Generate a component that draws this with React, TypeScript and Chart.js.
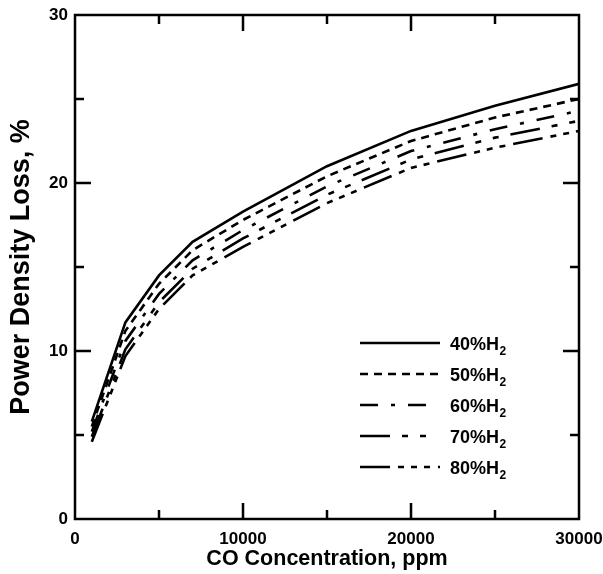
import React, { useEffect, useRef } from 'react';
import { Chart, registerables } from 'chart.js';

Chart.register(...registerables);

// ---- data ----
const coPpm = [1000, 3000, 5000, 7000, 10000, 15000, 20000, 25000, 30000];
const loss40 = [5.8, 11.7, 14.5, 16.5, 18.3, 21.0, 23.1, 24.6, 25.9];
const loss50 = [5.5, 11.2, 14.0, 16.0, 17.8, 20.4, 22.5, 23.9, 25.0];
const loss60 = [5.2, 10.6, 13.4, 15.4, 17.2, 19.8, 21.9, 23.2, 24.3];
const loss70 = [4.9, 10.1, 12.9, 14.9, 16.7, 19.3, 21.4, 22.7, 23.7];
const loss80 = [4.6, 9.7, 12.5, 14.5, 16.2, 18.8, 20.9, 22.1, 23.1];
const h2Percents = ['40%', '50%', '60%', '70%', '80%'];
const xTickValues = [0, 10000, 20000, 30000];
const yTickValues = [0, 10, 20, 30];

const seriesValues = [loss40, loss50, loss60, loss70, loss80];

// ---- styles ----
const FONT = '"Liberation Sans", Arial, Helvetica, sans-serif';
const dashes: number[][] = [
  [],
  [8, 6],
  [18, 13, 4, 13],
  [30, 12, 6, 12, 6, 12],
  [30, 8, 6, 7, 6, 7, 6, 8],
];
const legendLineLengths = [80, 78, 72, 73, 80];

const framePlugin = {
  id: 'frameTicks',
  afterDraw(chart: any) {
    const { ctx, chartArea } = chart;
    const { left, right, top, bottom } = chartArea;
    const xs = chart.scales.x;
    const ys = chart.scales.y;
    ctx.save();
    ctx.strokeStyle = '#000';
    ctx.lineWidth = 2.5;
    ctx.setLineDash([]);
    ctx.lineCap = 'butt';
    ctx.strokeRect(left, top, right - left, bottom - top);
    ctx.beginPath();
    for (let v = 5000; v < 30000; v += 5000) {
      const px = xs.getPixelForValue(v);
      const len = v % 10000 === 0 ? 16 : 9;
      ctx.moveTo(px, bottom);
      ctx.lineTo(px, bottom - len);
      ctx.moveTo(px, top);
      ctx.lineTo(px, top + len);
    }
    for (let v = 5; v < 30; v += 5) {
      const py = ys.getPixelForValue(v);
      const len = v % 10 === 0 ? 16 : 9;
      ctx.moveTo(left, py);
      ctx.lineTo(left + len, py);
      ctx.moveTo(right, py);
      ctx.lineTo(right - len, py);
    }
    ctx.stroke();

    // legend
    const x0 = 360;
    const textX = 450;
    chart.data.datasets.forEach((ds: any, i: number) => {
      const y = 343 + i * 31;
      ctx.save();
      ctx.strokeStyle = '#000';
      ctx.lineWidth = 2.6;
      ctx.setLineDash(ds.borderDash || []);
      ctx.beginPath();
      ctx.moveTo(x0, y);
      ctx.lineTo(x0 + legendLineLengths[i], y);
      ctx.stroke();
      ctx.restore();
      ctx.fillStyle = '#000';
      ctx.textAlign = 'left';
      ctx.textBaseline = 'alphabetic';
      ctx.font = `bold 18px ${FONT}`;
      const main = h2Percents[i] + 'H';
      ctx.fillText(main, textX, y + 6.5);
      const w = ctx.measureText(main).width;
      ctx.font = `bold 12px ${FONT}`;
      ctx.fillText('2', textX + w + 0.5, y + 12);
    });
    ctx.restore();
  },
};

export default function App() {
  const canvasRef = useRef<HTMLCanvasElement | null>(null);

  useEffect(() => {
    document.body.style.margin = '0';
    const canvas = canvasRef.current;
    if (!canvas) return;
    const chart = new Chart(canvas, {
      type: 'line',
      data: {
        datasets: seriesValues.map((vals, i) => ({
          label: h2Percents[i] + 'H₂',
          data: coPpm.map((x, j) => ({ x, y: vals[j] })),
          borderColor: '#000',
          backgroundColor: '#000',
          borderWidth: 2.6,
          borderDash: dashes[i],
          pointRadius: 0,
          fill: false,
          tension: 0,
        })),
      },
      options: {
        responsive: false,
        animation: false,
        layout: { padding: { top: 15, right: 24, left: 0, bottom: 0 } },
        plugins: {
          legend: { display: false },
          tooltip: { enabled: false },
        },
        scales: {
          x: {
            type: 'linear',
            min: 0,
            max: 30000,
            afterFit: (s: any) => {
              s.height = 55;
              s.paddingLeft = 0;
              s.paddingRight = 0;
            },
            afterBuildTicks: (s: any) => { s.ticks = xTickValues.map((v) => ({ value: v })); },
            grid: { display: false, drawTicks: false },
            border: { display: false },
            ticks: {
              padding: 10,
              color: '#000',
              font: { family: FONT, size: 17, weight: 'bold' },
              callback: (v: any) => String(v),
            },
            title: {
              display: true,
              text: 'CO Concentration, ppm',
              color: '#000',
              font: { family: FONT, size: 21.5, weight: 'bold' },
              padding: { top: 0, bottom: 2 },
            },
          },
          y: {
            type: 'linear',
            min: 0,
            max: 30,
            afterFit: (s: any) => {
              s.width = 75;
              s.paddingTop = 0;
              s.paddingBottom = 0;
            },
            afterBuildTicks: (s: any) => { s.ticks = yTickValues.map((v) => ({ value: v })); },
            grid: { display: false, drawTicks: false },
            border: { display: false },
            ticks: {
              padding: 7,
              color: '#000',
              font: { family: FONT, size: 17, weight: 'bold' },
              callback: (v: any) => String(v),
            },
            title: {
              display: true,
              text: 'Power Density Loss, %',
              color: '#000',
              font: { family: FONT, size: 27, weight: 'bold' },
              padding: { top: 5, bottom: 0 },
            },
          },
        },
      },
      plugins: [framePlugin],
    });
    return () => chart.destroy();
  }, []);

  return (
    <div style={{ width: 603, height: 574, background: '#fff' }}>
      <canvas ref={canvasRef} width={603} height={574} />
    </div>
  );
}
